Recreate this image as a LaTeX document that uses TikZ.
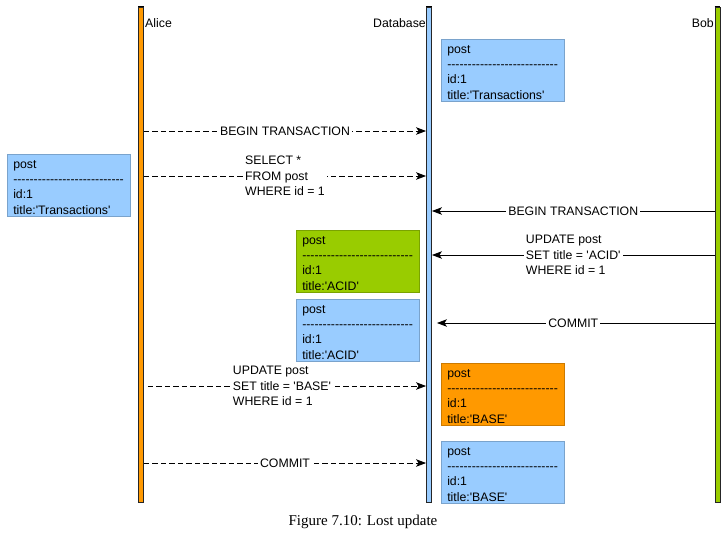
\documentclass[tikz,border=0pt]{standalone}
\usepackage{fontspec}
\newfontfamily\diagfont{Liberation Sans}
\newfontfamily\capfont{Liberation Serif}
\usetikzlibrary{arrows.meta}
\definecolor{cblue}{HTML}{99CCFF}
\definecolor{cgreen}{HTML}{99CC00}
\definecolor{corange}{HTML}{FF9900}
\begin{document}
\begin{tikzpicture}[x=1pt,y=-1pt,
  every node/.style={font=\diagfont\fontsize{12.3}{15.3}\selectfont},
  lifeline/.style={draw=black!85, line width=0.9pt, minimum width=5pt, minimum height=495pt, inner sep=0pt},
  databox/.style={anchor=north west, draw=#1!80!black, line width=0.5pt, fill=#1, minimum width=122pt, minimum height=61pt, inner xsep=6pt, inner ysep=2pt, align=left},
  msg/.style={line width=0.8pt, -{Stealth[length=10pt,width=7.5pt,inset=2.5pt]}},
  async/.style={msg, dash pattern=on 5.5pt off 3pt},
  lbl/.style={fill=white, inner xsep=2pt, inner ysep=0pt, align=left},
  who/.style={inner sep=0pt}
]
\useasboundingbox (0,0) rectangle (727,536);
% lifelines
\node[lifeline, fill=corange] (alice) at (141,254.5) {};
\node[lifeline, fill=cblue] (db) at (429,254.5) {};
\node[lifeline, fill=cgreen] (bob) at (717.5,254.5) {};
\draw[line width=1.6pt] (alice.north west) -- (alice.north east);
\draw[line width=1.6pt] (db.north west) -- (db.north east);
\draw[line width=1.6pt] (bob.north west) -- (bob.north east);
\node[who, anchor=west] (alicel) at (145,23) {Alice};
\node[who, anchor=east] (dbl) at (426,23) {Database};
\node[who, anchor=east] (bobl) at (714,23) {Bob};
% data boxes
\newcommand{\dashline}{---------------------------}
\newcommand{\toprule}{\rule{0pt}{12pt}}
\node[databox=cblue] (b1) at (441,39) {\toprule post\\\dashline\\id:1\\title:'Transactions'};
\node[databox=cblue] (b2) at (7,154) {\toprule post\\\dashline\\id:1\\title:'Transactions'};
\node[databox=cgreen] (b3) at (296,230) {\toprule post\\\dashline\\id:1\\title:'ACID'};
\node[databox=cblue] (b4) at (296,299) {\toprule post\\\dashline\\id:1\\title:'ACID'};
\node[databox=corange] (b5) at (441,363) {\toprule post\\\dashline\\id:1\\title:'BASE'};
\node[databox=cblue] (b6) at (441,441) {\toprule post\\\dashline\\id:1\\title:'BASE'};
% message rows
\coordinate (r1) at (0,131);
\coordinate (r2) at (0,176);
\coordinate (r3) at (0,211);
\coordinate (r4) at (0,255);
\coordinate (r5) at (0,323);
\coordinate (r6) at (0,386);
\coordinate (r7) at (0,463);
\draw[async] (alice.east |- r1) -- node[lbl] {BEGIN TRANSACTION} (db.west |- r1);
\draw[async] (alice.east |- r2) -- node[lbl] {SELECT *\\FROM post\\WHERE id = 1} (db.west |- r2);
\draw[msg] (bob.west |- r3) -- node[lbl] {BEGIN TRANSACTION} (db.east |- r3);
\draw[msg] (bob.west |- r4) -- node[lbl] {UPDATE post\\SET title = 'ACID'\\WHERE id = 1} (db.east |- r4);
\draw[msg, shorten >=5pt] (bob.west |- r5) -- node[lbl] {COMMIT} (db.east |- r5);
\draw[async, shorten <=4pt] (alice.east |- r6) -- node[lbl, xshift=-3pt] {UPDATE post\\SET title = 'BASE'\\WHERE id = 1} (db.west |- r6);
\draw[async] (alice.east |- r7) -- node[lbl] {COMMIT} (db.west |- r7);
% caption
\node[font=\capfont\fontsize{15}{17}\selectfont] (cap) at (363,522) {Figure 7.10: Lost update};
\end{tikzpicture}
\end{document}
